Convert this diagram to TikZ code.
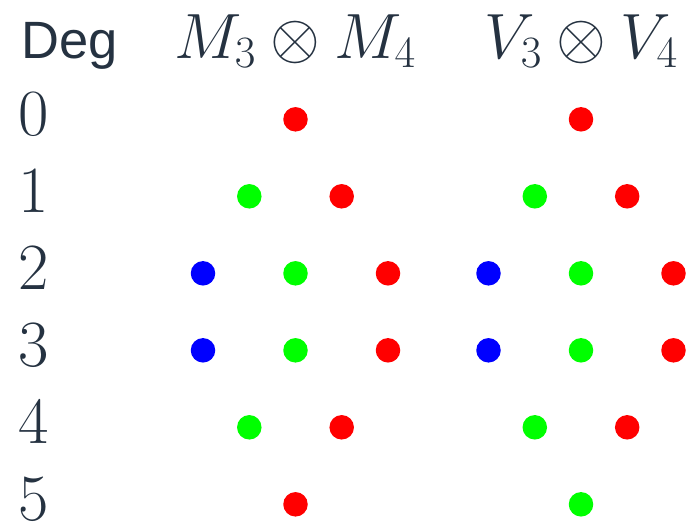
\RequirePackage{fix-cm}
\documentclass[tikz,border=0pt]{standalone}
\usepackage{fontspec}
\newfontfamily\degfont{Liberation Sans}
\definecolor{ink}{RGB}{37,50,65}
\definecolor{dred}{RGB}{255,0,0}
\definecolor{dgreen}{RGB}{0,255,0}
\definecolor{dblue}{RGB}{0,0,255}
\begin{document}
\begin{tikzpicture}[x=1pt,y=-1pt,
  dot/.style={circle,inner sep=0pt,minimum size=24.5pt},
  rd/.style={dot,fill=dred},
  gd/.style={dot,fill=dgreen},
  bd/.style={dot,fill=dblue},
  lbl/.style={text=ink,inner sep=0pt,anchor=base,font=\fontsize{66}{66}\selectfont},
  hdr/.style={text=ink,inner sep=0pt,anchor=base,font=\fontsize{64}{64}\selectfont}]
\useasboundingbox (0,0) rectangle (689,523);
% header
\node[text=ink,inner sep=0pt,anchor=base west,font=\degfont\fontsize{52.5}{52.5}\selectfont] (deg) at (21.5,58.3) {Deg};
\node[hdr] (hM) at (295,58.3) {$M_3\otimes M_4$};
\node[hdr] (hV) at (581,58.3) {$V_3\otimes V_4$};
% degree labels
\foreach \k in {0,...,5}
  \node[lbl] (d\k) at (34,{119.3+77*\k+16.5}) {$\k$};
% left group
\node[rd] (l0r) at (295.5,119.3) {};
\node[gd] (l1g) at (249.3,196.3) {};
\node[rd] (l1r) at (341.7,196.3) {};
\node[bd] (l2b) at (203,273.3) {};
\node[gd] (l2g) at (295.5,273.3) {};
\node[rd] (l2r) at (388,273.3) {};
\node[bd] (l3b) at (203,350.3) {};
\node[gd] (l3g) at (295.5,350.3) {};
\node[rd] (l3r) at (388,350.3) {};
\node[gd] (l4g) at (249.3,427.3) {};
\node[rd] (l4r) at (341.7,427.3) {};
\node[rd] (l5r) at (295.5,504.3) {};
% right group
\node[rd] (r0r) at (581,119.3) {};
\node[gd] (r1g) at (534.8,196.3) {};
\node[rd] (r1r) at (627.2,196.3) {};
\node[bd] (r2b) at (488.5,273.3) {};
\node[gd] (r2g) at (581,273.3) {};
\node[rd] (r2r) at (673.5,273.3) {};
\node[bd] (r3b) at (488.5,350.3) {};
\node[gd] (r3g) at (581,350.3) {};
\node[rd] (r3r) at (673.5,350.3) {};
\node[gd] (r4g) at (534.8,427.3) {};
\node[rd] (r4r) at (627.2,427.3) {};
\node[gd] (r5g) at (581,504.3) {};
\end{tikzpicture}
\end{document}
